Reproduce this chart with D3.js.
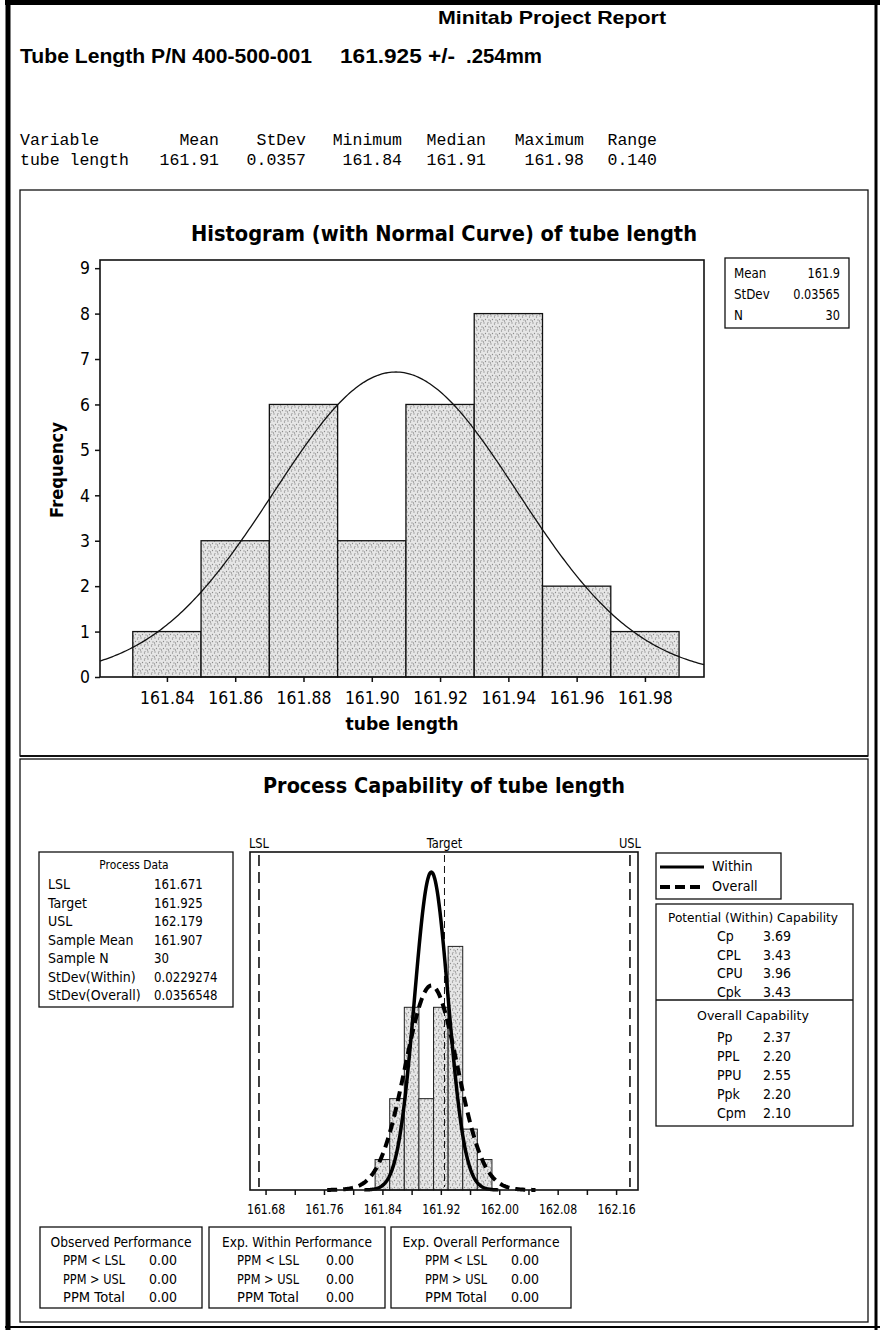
<!DOCTYPE html>
<html><head><meta charset="utf-8">
<script src="https://cdn.jsdelivr.net/npm/d3@7"></script>
<style>body{margin:0;background:#fff} svg{display:block}</style>
</head><body><svg id="c" width="880" height="1330"></svg>
<script>
// ---------------- data ----------------
const reportTitle = "Minitab Project Report";
const partTitle = ["Tube Length P/N 400-500-001", "161.925 +/-", ".254mm"];
const statHeaders = ["Variable", "Mean", "StDev", "Minimum", "Median", "Maximum", "Range"];
const statValues = ["tube length", "161.91", "0.0357", "161.84", "161.91", "161.98", "0.140"];

const binCenters = [161.84, 161.86, 161.88, 161.90, 161.92, 161.94, 161.96, 161.98];
const binCounts = [1, 3, 6, 3, 6, 8, 2, 1];
const binWidth = 0.02;
const histXTicks = [161.84, 161.86, 161.88, 161.90, 161.92, 161.94, 161.96, 161.98];
const histYTicks = [0, 1, 2, 3, 4, 5, 6, 7, 8, 9];
const histLegendLabels = ["Mean", "StDev", "N"];
const histLegendValues = ["161.9", "0.03565", "30"];

const sampleMean = 161.907, histStdev = 0.03565, stdevWithin = 0.0229274, stdevOverall = 0.0356548, sampleN = 30;
const specLSL = 161.671, specTarget = 161.925, specUSL = 162.179;
const capXTickLabels = [161.68, 161.76, 161.84, 161.92, 162.00, 162.08, 162.16];
const capXMinorTicks = [161.72, 161.80, 161.88, 161.96, 162.04, 162.12];

const processLabels = ["LSL", "Target", "USL", "Sample Mean", "Sample N", "StDev(Within)", "StDev(Overall)"];
const processValues = ["161.671", "161.925", "162.179", "161.907", "30", "0.0229274", "0.0356548"];
const potLabels = ["Cp", "CPL", "CPU", "Cpk"];
const potValues = ["3.69", "3.43", "3.96", "3.43"];
const ovLabels = ["Pp", "PPL", "PPU", "Ppk", "Cpm"];
const ovValues = ["2.37", "2.20", "2.55", "2.20", "2.10"];
const perfTitles = ["Observed Performance", "Exp. Within Performance", "Exp. Overall Performance"];
const perfLabels = ["PPM < LSL", "PPM > USL", "PPM Total"];
const perfValues = [["0.00", "0.00", "0.00"], ["0.00", "0.00", "0.00"], ["0.00", "0.00", "0.00"]];

// ---------------- helpers ----------------
const svg = d3.select("#c");
svg.append("rect").attr("width", 880).attr("height", 1330).attr("fill", "#fff");
const SANS = "DejaVu Sans";
function T(g, x, y, s, o = {}) {
  const t = g.append("text").attr("x", x).attr("y", y).text(s)
    .attr("font-family", o.family || SANS)
    .attr("font-size", o.size || 12)
    .attr("font-weight", o.weight || "normal")
    .attr("text-anchor", o.anchor || "start")
    .attr("dominant-baseline", "central")
    .attr("fill", o.fill || "#000");
  if (o.width) t.attr("textLength", o.width).attr("lengthAdjust", "spacingAndGlyphs");
  else if (o.squeeze) {
    const w = t.node().getComputedTextLength();
    t.attr("textLength", w * o.squeeze).attr("lengthAdjust", "spacingAndGlyphs");
  }
  if (o.rotate) t.attr("transform", `rotate(${o.rotate},${x},${y})`);
  return t;
}
function box(g, x, y, w, h, sw = 1.3) {
  return g.append("rect").attr("x", x).attr("y", y).attr("width", w).attr("height", h)
    .attr("fill", "none").attr("stroke", "#111").attr("stroke-width", sw);
}
function normal(x, m, s) { return Math.exp(-0.5 * ((x - m) / s) ** 2) / (s * Math.sqrt(2 * Math.PI)); }
function squeezeSel(sel, f) {
  sel.each(function () {
    const w = this.getComputedTextLength();
    if (w > 0) d3.select(this).attr("textLength", w * f).attr("lengthAdjust", "spacingAndGlyphs");
  });
}

// stipple pattern
const defs = svg.append("defs");
const pat = defs.append("pattern").attr("id", "stip").attr("patternUnits", "userSpaceOnUse")
  .attr("width", 7).attr("height", 7);
pat.append("rect").attr("width", 7).attr("height", 7).attr("fill", "#e6e6e6");
[[1, 1], [4.5, 2], [2.5, 4.5], [6, 5], [0.5, 6], [5, 0.2]].forEach(p =>
  pat.append("circle").attr("cx", p[0]).attr("cy", p[1]).attr("r", 0.65).attr("fill", "#8c8c8c"));

// ---------------- page borders ----------------
svg.append("line").attr("x1", 5).attr("x2", 880).attr("y1", 2.5).attr("y2", 2.5).attr("stroke", "#000").attr("stroke-width", 5);
svg.append("line").attr("x1", 8).attr("x2", 8).attr("y1", 0).attr("y2", 1330).attr("stroke", "#000").attr("stroke-width", 5);
svg.append("line").attr("x1", 876).attr("x2", 876).attr("y1", 0).attr("y2", 1330).attr("stroke", "#000").attr("stroke-width", 3);
svg.append("line").attr("x1", 5).attr("x2", 880).attr("y1", 1327).attr("y2", 1327).attr("stroke", "#000").attr("stroke-width", 2);

// ---------------- header ----------------
const hd = svg.append("g");
T(hd, 552, 17, reportTitle, { family: "Liberation Sans", weight: "bold", size: 19, anchor: "middle", width: 228 });
T(hd, 20, 56, partTitle[0], { family: "Liberation Sans", weight: "bold", size: 20, width: 292 });
T(hd, 340, 56, partTitle[1], { family: "Liberation Sans", weight: "bold", size: 20, width: 115 });
T(hd, 466, 56, partTitle[2], { family: "Liberation Sans", weight: "bold", size: 20, width: 76 });

const colEnds = [null, 219, 306, 402, 486, 584, 657];
statHeaders.forEach((s, i) => {
  if (i === 0) T(hd, 20, 140, s, { family: "Liberation Mono", size: 16.5 });
  else T(hd, colEnds[i], 140, s, { family: "Liberation Mono", size: 16.5, anchor: "end" });
});
statValues.forEach((s, i) => {
  if (i === 0) T(hd, 20, 160, s, { family: "Liberation Mono", size: 16.5 });
  else T(hd, colEnds[i], 160, s, { family: "Liberation Mono", size: 16.5, anchor: "end" });
});

// ---------------- histogram panel ----------------
const gH = svg.append("g");
box(gH, 20, 190, 848, 566, 1.3);
T(gH, 444, 233, "Histogram (with Normal Curve) of tube length", { weight: "bold", size: 22, anchor: "middle", width: 506 });

const xH = d3.scaleLinear().domain([161.8204, 161.9973]).range([100, 704]);
const yH = d3.scaleLinear().domain([0, 9.18]).range([677, 260]);

gH.selectAll("rect.bar").data(binCenters).enter().append("rect").attr("class", "bar")
  .attr("x", d => xH(d - binWidth / 2))
  .attr("width", d => xH(d + binWidth / 2) - xH(d - binWidth / 2))
  .attr("y", (d, i) => yH(binCounts[i]))
  .attr("height", (d, i) => yH(0) - yH(binCounts[i]))
  .attr("fill", "url(#stip)").attr("stroke", "#111").attr("stroke-width", 1.3);

const hDom = xH.domain();
const hPts = d3.range(0, 301).map(i => hDom[0] + (hDom[1] - hDom[0]) * i / 300);
gH.append("path").datum(hPts)
  .attr("d", d3.line().x(d => xH(d)).y(d => yH(sampleN * binWidth * normal(d, sampleMean, histStdev))))
  .attr("fill", "none").attr("stroke", "#111").attr("stroke-width", 1.3);

box(gH, 100, 260, 604, 417, 1.6);

const axHB = gH.append("g").attr("transform", "translate(0,677)")
  .call(d3.axisBottom(xH).tickValues(histXTicks).tickSize(5).tickPadding(9).tickFormat(d3.format(".2f")));
const axHL = gH.append("g").attr("transform", "translate(100,0)")
  .call(d3.axisLeft(yH).tickValues(histYTicks).tickSize(5).tickPadding(5).tickFormat(d3.format("d")));
[axHB, axHL].forEach(a => {
  a.select(".domain").remove();
  a.selectAll("line").attr("stroke", "#111").attr("stroke-width", 1.5);
  a.selectAll("text").attr("font-family", SANS).attr("font-size", 18).attr("fill", "#000");
});
squeezeSel(axHB.selectAll("text"), 0.87);
squeezeSel(axHL.selectAll("text"), 0.87);
T(gH, 57, 470, "Frequency", { weight: "bold", size: 17, anchor: "middle", width: 96, rotate: -90 });
T(gH, 402, 724, "tube length", { weight: "bold", size: 17, anchor: "middle", width: 113 });

// legend box
box(gH, 725, 258, 124, 70, 1.3);
histLegendLabels.forEach((s, i) => {
  T(gH, 734, 273 + i * 21, s, { size: 14.5, squeeze: 0.82 });
  T(gH, 840, 273 + i * 21, histLegendValues[i], { size: 14.5, anchor: "end", squeeze: 0.78 });
});

// ---------------- capability panel ----------------
const gC = svg.append("g");
box(gC, 20, 759, 848, 563, 1.3);
gC.append("line").attr("x1", 20).attr("x2", 868).attr("y1", 756).attr("y2", 756).attr("stroke", "#111").attr("stroke-width", 2.2);
T(gC, 444, 785, "Process Capability of tube length", { weight: "bold", size: 22, anchor: "middle", width: 362 });

const xC = d3.scaleLinear().domain([161.6587, 162.190]).range([250, 638]);
const yC = d3.scaleLinear().domain([0, 11.1]).range([1190, 852]);

gC.selectAll("rect.bar").data(binCenters).enter().append("rect").attr("class", "bar")
  .attr("x", d => xC(d - binWidth / 2))
  .attr("width", d => xC(d + binWidth / 2) - xC(d - binWidth / 2))
  .attr("y", (d, i) => yC(binCounts[i]))
  .attr("height", (d, i) => yC(0) - yC(binCounts[i]))
  .attr("fill", "url(#stip)").attr("stroke", "#222").attr("stroke-width", 1);

// spec lines
[[specLSL, "LSL"], [specTarget, "Target"], [specUSL, "USL"]].forEach(([v, lab]) => {
  gC.append("line").attr("x1", xC(v)).attr("x2", xC(v)).attr("y1", 855).attr("y2", 1187)
    .attr("stroke", "#111").attr("stroke-width", v === specTarget ? 1 : 1.6)
    .attr("stroke-dasharray", v === specTarget ? "7,4" : "11,6");
  T(gC, xC(v), 843, lab, { size: 14, anchor: "middle", squeeze: 0.82 });
});

// normal curves
function curve(s) {
  return d3.range(0, 201).map(i => sampleMean - 4 * s + 8 * s * i / 200);
}
gC.append("path").datum(curve(stdevOverall))
  .attr("d", d3.line().x(d => xC(d)).y(d => yC(sampleN * binWidth * normal(d, sampleMean, stdevOverall))))
  .attr("fill", "none").attr("stroke", "#000").attr("stroke-width", 4).attr("stroke-dasharray", "10,6");
gC.append("path").datum(curve(stdevWithin))
  .attr("d", d3.line().x(d => xC(d)).y(d => yC(sampleN * binWidth * normal(d, sampleMean, stdevWithin))))
  .attr("fill", "none").attr("stroke", "#000").attr("stroke-width", 3.5).attr("stroke-linejoin", "round");

box(gC, 250, 852, 388, 338, 1.6);

const capAllTicks = capXTickLabels.concat(capXMinorTicks).sort((a, b) => a - b);
const axC = gC.append("g").attr("transform", "translate(0,1190)")
  .call(d3.axisBottom(xC).tickValues(capAllTicks).tickSize(5).tickPadding(9)
    .tickFormat(d => capXTickLabels.some(v => Math.abs(v - d) < 1e-9) ? d3.format(".2f")(d) : ""));
axC.select(".domain").remove();
axC.selectAll("line").attr("stroke", "#111").attr("stroke-width", 1.5);
axC.selectAll("text").attr("font-family", SANS).attr("font-size", 14).attr("fill", "#000");
squeezeSel(axC.selectAll("text"), 0.78);

// process data box
box(gC, 39, 852, 194, 155);
T(gC, 134, 864, "Process Data", { size: 13, anchor: "middle", squeeze: 0.82 });
processLabels.forEach((s, i) => {
  T(gC, 48, 884 + i * 18.5, s, { size: 14, squeeze: 0.9 });
  T(gC, 154, 884 + i * 18.5, processValues[i], { size: 14, squeeze: 0.84 });
});

// legend box
box(gC, 656, 853, 125, 46);
gC.append("line").attr("x1", 660).attr("x2", 704).attr("y1", 867).attr("y2", 867).attr("stroke", "#000").attr("stroke-width", 3);
gC.append("line").attr("x1", 660).attr("x2", 704).attr("y1", 887).attr("y2", 887).attr("stroke", "#000").attr("stroke-width", 4).attr("stroke-dasharray", "10,5");
T(gC, 712, 866, "Within", { size: 14.5, squeeze: 0.88 });
T(gC, 712, 886, "Overall", { size: 14.5, squeeze: 0.88 });

// capability stats box
box(gC, 656, 904, 197, 222);
gC.append("line").attr("x1", 656).attr("x2", 853).attr("y1", 1000).attr("y2", 1000).attr("stroke", "#111").attr("stroke-width", 1.3);
T(gC, 753, 917, "Potential (Within) Capability", { size: 13, anchor: "middle", width: 170 });
potLabels.forEach((s, i) => {
  T(gC, 717, 936 + i * 18.7, s, { size: 14, squeeze: 0.9 });
  T(gC, 763, 936 + i * 18.7, potValues[i], { size: 14, squeeze: 0.9 });
});
T(gC, 753, 1015, "Overall Capability", { size: 13, anchor: "middle", width: 112 });
ovLabels.forEach((s, i) => {
  T(gC, 717, 1037 + i * 19, s, { size: 14, squeeze: 0.9 });
  T(gC, 763, 1037 + i * 19, ovValues[i], { size: 14, squeeze: 0.9 });
});

// performance boxes
const perfBoxes = [[40, 162, 63, 149, 141], [209, 176, 237, 326, 150], [391, 180, 425, 511, 157]];
perfBoxes.forEach(([bx, bw, lx, vx, tw], k) => {
  box(gC, bx, 1227, bw, 81);
  T(gC, bx + bw / 2, 1242, perfTitles[k], { size: 13.5, anchor: "middle", width: tw });
  perfLabels.forEach((s, i) => {
    T(gC, lx, 1260 + i * 18.5, s, { size: 13.5, width: 62 });
    T(gC, vx, 1260 + i * 18.5, perfValues[k][i], { size: 13.5, width: 28 });
  });
});
</script></body></html>
